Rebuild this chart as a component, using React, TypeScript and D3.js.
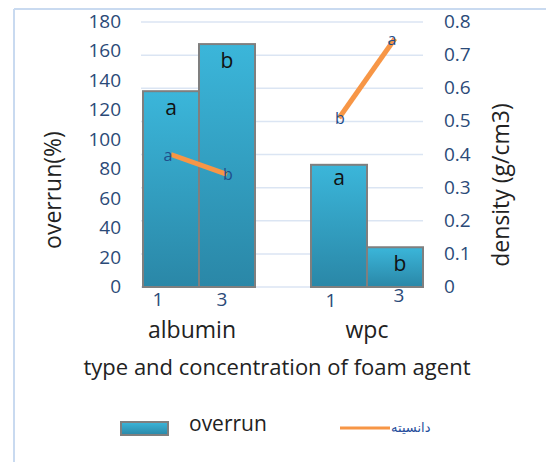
import * as d3 from 'd3';

const groups = ['albumin', 'wpc'];
const slots = ['albumin-1', 'albumin-3', 'gap', 'wpc-1', 'wpc-3'];
const concLabels = ['1', '3', '', '1', '3'];
const overrun = [133, 165, null, 83, 27];
const overrunLetters = ['a', 'b', '', 'a', 'b'];
const density = [0.4, 0.34, null, 0.51, 0.75];
const densityLetters = ['a', 'b', '', 'b', 'a'];
const leftTicks = [0, 20, 40, 60, 80, 100, 120, 140, 160, 180];
const rightTicks = [0, 0.1, 0.2, 0.3, 0.4, 0.5, 0.6, 0.7, 0.8];

const W = 546;
const H = 462;
const FONT = '"Open Sans", sans-serif';
const TICK = '#2b4a78';

export default function App() {
  const plot = { left: 143, right: 423, top: 22, bottom: 287 };

  const x = d3.scaleBand<string>().domain(slots).range([plot.left, plot.right]).paddingInner(0);
  const yL = d3.scaleLinear().domain([0, 180]).range([plot.bottom, plot.top]);
  const yR = d3.scaleLinear().domain([0, 0.8]).range([plot.bottom, plot.top]);
  const bw = x.bandwidth();

  // density segments: one per foam agent
  const line = d3.line<[number, number]>().x(d => d[0]).y(d => d[1]);
  const segs = [[0, 1], [3, 4]].map(pair =>
    pair.map(i => [x(slots[i])! + bw / 2, yR(density[i] as number)] as [number, number])
  );

  return (
    <svg width={W} height={H} style={{ position: 'absolute', left: 0, top: 0, background: '#fff' }} fontFamily={FONT}>
      <defs>
        <linearGradient id="barGrad" x1="0" y1="0" x2="0" y2="1">
          <stop offset="0%" stopColor="#3bb6da" />
          <stop offset="100%" stopColor="#2a87a7" />
        </linearGradient>
      </defs>

      {/* chart frame */}
      <line x1={14} y1={9} x2={W} y2={9} stroke="#c9daf0" strokeWidth={2} />
      <line x1={14} y1={9} x2={14} y2={H} stroke="#c9daf0" strokeWidth={2} />

      {/* gridlines */}
      {rightTicks.map(t => (
        <line key={t} x1={plot.left - 2} x2={plot.right} y1={yR(t)} y2={yR(t)} stroke="#dbe5f3" strokeWidth={1.5} />
      ))}

      {/* bars */}
      {slots.map((s, i) =>
        overrun[i] == null ? null : (
          <g key={s}>
            <rect
              x={x(s)!}
              y={yL(overrun[i] as number)}
              width={bw}
              height={plot.bottom - yL(overrun[i] as number)}
              fill="url(#barGrad)"
              stroke="#7f7f7f"
              strokeWidth={2}
            />
            <text
              x={x(s)! + bw / 2 + (i === 4 ? 5 : 0)}
              y={yL(overrun[i] as number) + (i === 3 ? 20 : 24)}
              textAnchor="middle"
              fontSize={21}
              fill="#111"
            >
              {overrunLetters[i]}
            </text>
          </g>
        )
      )}

      {/* density lines */}
      {segs.map((sg, k) => (
        <path key={k} d={line(sg)!} fill="none" stroke="#f79646" strokeWidth={5} />
      ))}
      {slots.map((s, i) =>
        density[i] == null ? null : (
          <text
            key={s}
            x={x(s)! + bw / 2 + (densityLetters[i] === 'a' ? -3 : 1)}
            y={yR(density[i] as number) + 6}
            textAnchor="middle"
            fontSize={16}
            fill="#1f4e8c"
          >
            {densityLetters[i]}
          </text>
        )
      )}

      {/* left axis */}
      {leftTicks.map(t => (
        <text key={t} x={121} y={yL(t) + 6} textAnchor="end" fontSize={19} fill={TICK}>
          {t}
        </text>
      ))}
      <text transform={`translate(61,190) rotate(-90)`} textAnchor="middle" fontSize={23} fill="#222">
        overrun(%)
      </text>

      {/* right axis */}
      {rightTicks.map(t => (
        <text key={t} x={444} y={yR(t) + 6} textAnchor="start" fontSize={19} fill={TICK}>
          {t === 0 ? '0' : t.toFixed(1)}
        </text>
      ))}
      <text transform={`translate(509,185) rotate(-90)`} textAnchor="middle" fontSize={23} fill="#222">
        density (g/cm3)
      </text>

      {/* category labels */}
      {slots.map((s, i) => (
        <text key={s} x={x(s)! + bw / 2 + [-13, -5, 0, -8, 4][i]} y={[306, 306, 0, 307, 302][i]} textAnchor="middle" fontSize={19} fill={TICK}>
          {concLabels[i]}
        </text>
      ))}
      {groups.map((g, k) => {
        const a = x(slots[k * 3])!;
        const b = x(slots[k * 3 + 1])! + bw;
        return (
          <text key={g} x={(a + b) / 2 - (k === 0 ? 7 : 0)} y={338} textAnchor="middle" fontSize={23} fill="#222">
            {g}
          </text>
        );
      })}

      <text x={277} y={375} textAnchor="middle" fontSize={22} fill="#222">
        type and concentration of foam agent
      </text>

      {/* legend */}
      <rect x={121} y={422} width={47} height={13} fill="url(#barGrad)" stroke="#7f7f7f" strokeWidth={2} />
      <text x={189} y={431} fontSize={21} fill="#222">
        overrun
      </text>
      <line x1={340} x2={390} y1={428} y2={428} stroke="#f79646" strokeWidth={3} />
      <text x={391} y={432} fontSize={13} fill="#1f4e9c" fontFamily='"DejaVu Sans", sans-serif'>
        دانسیته
      </text>
    </svg>
  );
}
